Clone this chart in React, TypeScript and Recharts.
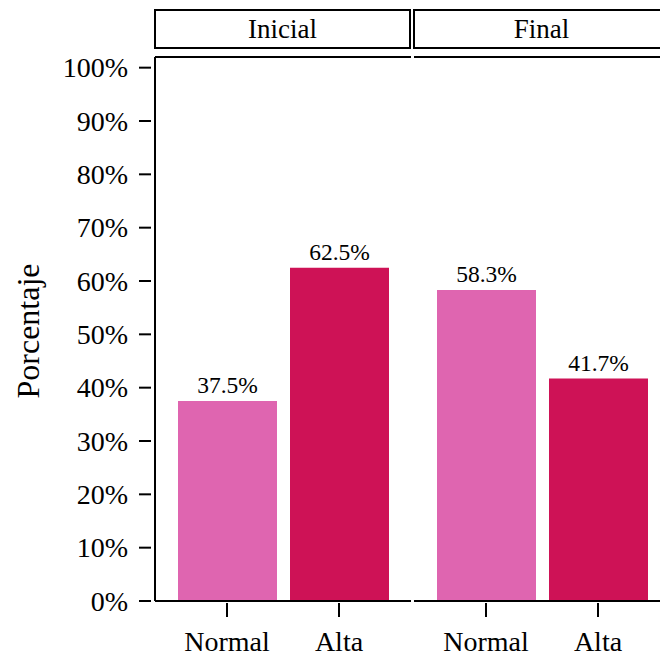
import * as React from 'react';
import { Bar, BarChart, Cell, LabelList, ReferenceLine, XAxis, YAxis } from 'recharts';

// Data
const phases = ['Inicial', 'Final'];
const levels = ['Normal', 'Alta'];
const inicialPct = [37.5, 62.5];
const finalPct = [58.3, 41.7];
const yTicks = [0, 10, 20, 30, 40, 50, 60, 70, 80, 90, 100];
const levelColors = ['#DF65B0', '#CE1256'];

const FONT = '"Liberation Serif", "Times New Roman", serif';
const Y_MAX = 102;

function YTick({ x, y, payload }: any) {
    return (
        <g>
            <line x1={x - 16} x2={x - 4} y1={y} y2={y} stroke="#000" strokeWidth={2} />
            <text x={x - 27} y={y} dy="0.35em" textAnchor="end" fontSize={28} fill="#000">
                {payload.value}%
            </text>
        </g>
    );
}

function XTick({ x, y, payload }: any) {
    return (
        <g>
            <line x1={x} x2={x} y1={y + 2} y2={y + 16} stroke="#000" strokeWidth={2} />
            <text x={x} y={y + 50} textAnchor="middle" fontSize={28} fill="#000">
                {payload.value}
            </text>
        </g>
    );
}

function YTitle() {
    return (
        <text x={39} y={331} transform="rotate(-90 39 331)" textAnchor="middle" fontSize={32} fill="#000">
            Porcentaje
        </text>
    );
}

interface PanelProps {
    values: number[];
    withYAxis: boolean;
}

function Panel({ values, withYAxis }: PanelProps) {
    const data = levels.map((lvl, i) => ({ level: lvl, value: values[i] }));
    return (
        <BarChart width={withYAxis ? 411 : 256} height={656} data={data} margin={{ top: 57, right: 0, bottom: 0, left: 0 }}>
            <XAxis
                dataKey="level"
                height={55}
                padding={{ left: 16, right: 16 }}
                tickLine={false}
                tickSize={0}
                tickMargin={0}
                tick={<XTick />}
                axisLine={{ stroke: '#000', strokeWidth: 2 }}
                interval={0}
            />
            <YAxis
                hide={!withYAxis}
                width={withYAxis ? 155 : 0}
                domain={[0, Y_MAX]}
                ticks={yTicks}
                allowDataOverflow
                tickLine={false}
                tickSize={0}
                tickMargin={0}
                tick={<YTick />}
                axisLine={{ stroke: '#000', strokeWidth: 2 }}
                label={{ content: <YTitle /> }}
            />
            <ReferenceLine y={Y_MAX} stroke="#000" strokeWidth={2} />
            <Bar dataKey="value" barSize={99} isAnimationActive={false}>
                {data.map((d, i) => (
                    <Cell key={`cell-${i}`} fill={levelColors[i]} />
                ))}
                <LabelList
                    dataKey="value"
                    position="top"
                    offset={8}
                    fontSize={23.5}
                    fill="#000"
                    formatter={(v: any) => `${v}%`}
                />
            </Bar>
        </BarChart>
    );
}

function Strip({ label, left }: { label: string; left: number }) {
    return (
        <div
            style={{
                position: 'absolute',
                left,
                top: 9,
                width: 257,
                height: 40,
                boxSizing: 'border-box',
                border: '2px solid #000',
                display: 'flex',
                alignItems: 'center',
                justifyContent: 'center',
                fontSize: 27,
                background: '#fff',
            }}
        >
            {label}
        </div>
    );
}

export default function App() {
    return (
        <div
            style={{
                position: 'absolute',
                left: 0,
                top: 0,
                width: 660,
                height: 656,
                overflow: 'hidden',
                background: '#fff',
                fontFamily: FONT,
                color: '#000',
            }}
        >
            <div style={{ position: 'absolute', left: 0, top: 0 }}>
                <Panel values={inicialPct} withYAxis />
            </div>
            <div style={{ position: 'absolute', left: 414, top: 0 }}>
                <Panel values={finalPct} withYAxis={false} />
            </div>
            <Strip label={phases[0]} left={154} />
            <Strip label={phases[1]} left={413} />
        </div>
    );
}
